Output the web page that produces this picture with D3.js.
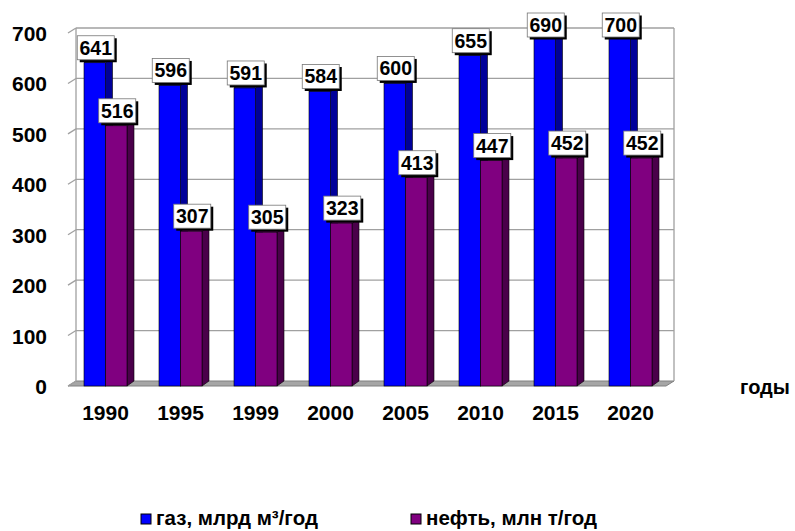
<!DOCTYPE html>
<html><head><meta charset="utf-8">
<script src="https://cdn.jsdelivr.net/npm/d3@7"></script>
<style>body{margin:0;background:#fff}text{font-family:"Liberation Sans",Arial,sans-serif;font-weight:bold}</style>
</head><body>
<svg id="c" width="795" height="531"></svg>
<script>
const years = ["1990","1995","1999","2000","2005","2010","2015","2020"];
const gas = [641,596,591,584,600,655,690,700];
const oil = [516,307,305,323,413,447,452,452];
const seriesNames = ["газ, млрд м³/год","нефть, млн т/год"];
const yTicks = [0,100,200,300,400,500,600,700];
const xAxisTitle = "годы";

const frontColors = ["#0000ff","#800080"];
const sideColors = ["#000099","#4a004a"];
const topColors = ["#3333ff","#990099"];

const svg = d3.select("#c");
const dx = 8, dy = -5, bdx = 7;
const x0 = d3.scaleBand().domain(years).range([68,668]);
const x1 = d3.scaleBand().domain([0,1]).range([16,59]);
const y = d3.scaleLinear().domain([0,700]).range([386,33]);
const wallL = 68+dx, wallR = 674;

// floor
svg.append("path")
  .attr("d", `M${68},${y(0)}L${wallR-dx},${y(0)}L${wallR},${y(0)+dy}L${wallL},${y(0)+dy}Z`)
  .attr("fill","#a6a6a6").attr("stroke","#808080").attr("stroke-width",1);

// gridlines & ticks
yTicks.forEach(t=>{
  if(t>0){
    svg.append("line").attr("x1",wallL).attr("x2",wallR).attr("y1",y(t)+dy).attr("y2",y(t)+dy)
      .attr("stroke","#a0a0a0").attr("stroke-width",1.3);
  }
  svg.append("line").attr("x1",68).attr("y1",y(t)).attr("x2",wallL).attr("y2",y(t)+dy)
    .attr("stroke","#a0a0a0").attr("stroke-width",1.3);
  svg.append("text").attr("x",47).attr("y",y(t)+8).attr("text-anchor","end")
    .attr("font-size",21).text(t);
});
svg.append("line").attr("x1",wallL).attr("x2",wallL).attr("y1",y(700)+dy).attr("y2",y(0)+dy).attr("stroke","#a0a0a0").attr("stroke-width",1.3);
svg.append("line").attr("x1",wallR).attr("x2",wallR).attr("y1",y(700)+dy).attr("y2",y(0)+dy).attr("stroke","#a0a0a0").attr("stroke-width",1.3);

// bars
const data = [gas, oil];
years.forEach((yr,i)=>{
  [0,1].forEach(s=>{
    const v = data[s][i];
    const x = x0(yr)+x1(s), w = x1.bandwidth();
    const yt = y(v), yb = y(0);
    const g = svg.append("g");
    g.append("path").attr("d",`M${x+w},${yt}L${x+w+bdx},${yt+dy}L${x+w+bdx},${yb+dy}L${x+w},${yb}Z`)
      .attr("fill",sideColors[s]).attr("stroke","#000").attr("stroke-width",0.6);
    g.append("path").attr("d",`M${x},${yt}L${x+bdx},${yt+dy}L${x+w+bdx},${yt+dy}L${x+w},${yt}Z`)
      .attr("fill",topColors[s]).attr("stroke","#000").attr("stroke-width",0.6);
    g.append("rect").attr("x",x).attr("y",yt).attr("width",w).attr("height",yb-yt)
      .attr("fill",frontColors[s]).attr("stroke","#000").attr("stroke-width",0.6);
  });
});

// labels
years.forEach((yr,i)=>{
  [0,1].forEach(s=>{
    const v = data[s][i];
    const cx = x0(yr)+x1(s)+x1.bandwidth()/2+1;
    let bottom = y(v)-3;
    let top = Math.max(13, bottom-24);
    const bw = 37;
    svg.append("rect").attr("x",cx-bw/2+2.5).attr("y",top+2.5).attr("width",bw).attr("height",24).attr("fill","#000");
    svg.append("rect").attr("x",cx-bw/2).attr("y",top).attr("width",bw).attr("height",24)
      .attr("fill","#fff").attr("stroke","#777").attr("stroke-width",0.8);
    svg.append("text").attr("x",cx).attr("y",top+19).attr("text-anchor","middle").attr("font-size",19.5).text(v);
  });
});

// x axis labels
years.forEach(yr=>{
  svg.append("text").attr("x",x0(yr)+x0.bandwidth()/2).attr("y",420).attr("text-anchor","middle")
    .attr("font-size",21).text(yr);
});
svg.append("text").attr("x",765).attr("y",394).attr("text-anchor","middle").attr("font-size",20).text(xAxisTitle);

// legend
const legX = [141, 411];
seriesNames.forEach((n,s)=>{
  svg.append("rect").attr("x",legX[s]).attr("y",514).attr("width",10).attr("height",10)
    .attr("fill",frontColors[s]).attr("stroke","#000").attr("stroke-width",1);
  svg.append("text").attr("x",legX[s]+15).attr("y",525).attr("font-size",20.5).text(n);
});
</script>
</body></html>
